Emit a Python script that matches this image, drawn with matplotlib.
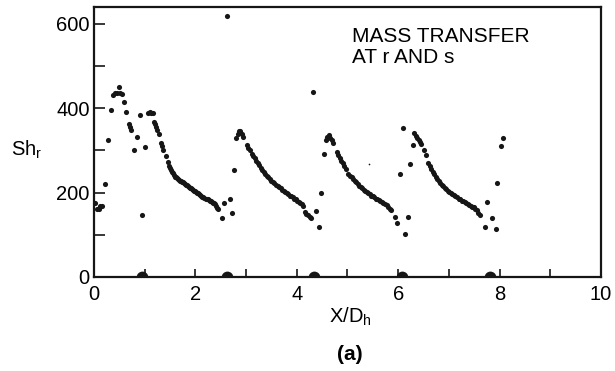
import matplotlib
matplotlib.use('Agg')
import matplotlib.pyplot as plt

plt.rcParams['font.family'] = ['Liberation Sans', 'DejaVu Sans']
plt.rcParams['mathtext.default'] = 'regular'

########################################################################################################################
## Data: local Sherwood number at r along the duct
########################################################################################################################
# first pitch (inlet up to the first rib)
x_p0 = [0.02, 0.06, 0.10, 0.12, 0.16, 0.22, 0.28, 0.33, 0.38, 0.42, 0.46, 0.49, 0.52, 0.55, 0.59,
        0.64, 0.70, 0.72, 0.74, 0.79, 0.84, 0.91, 0.95, 1.01]
sh_p0 = [175, 162, 160, 168, 168, 221, 324, 395, 432, 435, 436, 451, 435, 434, 416,
         390, 363, 356, 349, 302, 333, 383, 148, 308]

# second pitch
x_p1 = [1.07, 1.10, 1.13, 1.16, 1.18, 1.20, 1.22, 1.25, 1.28, 1.32, 1.34, 1.37, 1.42, 1.46, 1.48,
        1.50, 1.52, 1.54, 1.56, 1.58, 1.60, 1.62, 1.64, 1.66, 1.68, 1.70, 1.72, 1.74, 1.76, 1.78,
        1.80, 1.82, 1.84, 1.86, 1.88, 1.90, 1.92, 1.94, 1.96, 1.98, 2.00, 2.02, 2.04, 2.06, 2.08,
        2.10, 2.12, 2.14, 2.16, 2.18, 2.20, 2.22, 2.24, 2.26, 2.28, 2.30, 2.32, 2.34, 2.36, 2.38,
        2.40, 2.42, 2.45, 2.52, 2.57, 2.62, 2.69, 2.73, 2.77]
sh_p1 = [389, 390, 389, 388, 368, 362, 356, 348, 340, 318, 310, 300, 286, 272, 264,
         258, 253, 250, 246, 242, 238, 236, 234, 232, 230, 228, 227, 226, 224, 222,
         220, 219, 217, 215, 213, 212, 210, 208, 206, 205, 203, 201, 200, 198, 196,
         194, 192, 190, 189, 187, 186, 185, 184, 183, 181, 180, 178, 176, 175, 172,
         168, 164, 160, 141, 176, 618, 184, 152, 253]

# third pitch
x_p2 = [2.81, 2.84, 2.87, 2.89, 2.91, 2.94, 3.01, 3.04, 3.07, 3.11, 3.14, 3.17, 3.20, 3.23, 3.26,
        3.29, 3.32, 3.35, 3.38, 3.41, 3.44, 3.47, 3.50, 3.53, 3.56, 3.59, 3.62, 3.65, 3.68, 3.71,
        3.74, 3.77, 3.80, 3.83, 3.86, 3.89, 3.92, 3.95, 3.98, 4.01, 4.04, 4.07, 4.10, 4.13, 4.16,
        4.19, 4.22, 4.26, 4.29, 4.32, 4.38, 4.43, 4.48, 4.53]
sh_p2 = [330, 340, 345, 347, 340, 333, 312, 305, 300, 292, 287, 282, 276, 270, 265,
         259, 253, 249, 244, 240, 236, 232, 228, 225, 222, 219, 216, 213, 210, 207,
         204, 201, 199, 196, 193, 191, 189, 186, 184, 181, 178, 175, 172, 168, 155,
         150, 146, 142, 139, 439, 156, 119, 198, 291]

# fourth pitch
x_p3 = [4.57, 4.60, 4.63, 4.66, 4.69, 4.72, 4.79, 4.82, 4.85, 4.88, 4.91, 4.94, 4.98, 5.02, 5.05,
        5.08, 5.11, 5.14, 5.17, 5.20, 5.23, 5.26, 5.29, 5.32, 5.35, 5.38, 5.41, 5.44, 5.47, 5.50,
        5.53, 5.56, 5.59, 5.62, 5.65, 5.68, 5.71, 5.74, 5.77, 5.80, 5.83, 5.86, 5.94, 5.97, 6.04,
        6.09, 6.13, 6.19, 6.23]
sh_p3 = [325, 333, 336, 330, 324, 318, 296, 290, 283, 276, 270, 263, 257, 245, 240,
         236, 232, 228, 224, 220, 216, 213, 210, 207, 204, 201, 198, 196, 193, 191,
         189, 186, 184, 182, 180, 178, 176, 174, 171, 167, 162, 158, 142, 127, 243,
         354, 102, 142, 269]

# fifth pitch
x_p4 = [6.29, 6.32, 6.35, 6.38, 6.41, 6.44, 6.46, 6.50, 6.55, 6.59, 6.62, 6.65, 6.68, 6.71, 6.74,
        6.77, 6.80, 6.83, 6.86, 6.89, 6.92, 6.95, 6.98, 7.01, 7.04, 7.07, 7.10, 7.13, 7.16, 7.19,
        7.22, 7.25, 7.28, 7.31, 7.34, 7.37, 7.40, 7.43, 7.46, 7.49, 7.52, 7.55, 7.58, 7.61, 7.71,
        7.76, 7.86, 7.92, 7.94, 8.02, 8.07]
sh_p4 = [313, 341, 335, 330, 325, 320, 316, 302, 289, 270, 263, 256, 250, 244, 238,
         232, 227, 222, 217, 215, 211, 208, 205, 202, 199, 196, 194, 191, 189, 186,
         184, 181, 179, 177, 175, 173, 171, 169, 167, 165, 162, 158, 152, 146, 119,
         178, 141, 113, 223, 310, 330]

# rib locations on the wall
rib_x = [0.95, 2.63, 4.33, 6.07, 7.81]
rib_y = [0, 0, 0, 0, 0]

x_ticks = [0, 2, 4, 6, 8, 10]
y_ticks = [0, 200, 400, 600]
########################################################################################################################

fig = plt.figure(figsize=(6.15, 3.71), dpi=100)
ax = fig.add_axes([0.1528, 0.2534, 0.8244, 0.7277])

ink = '#161616'
for xs, ys in [(x_p0, sh_p0), (x_p1, sh_p1), (x_p2, sh_p2), (x_p3, sh_p3), (x_p4, sh_p4)]:
    ax.plot(xs, ys, 'o', color=ink, markersize=3.7, markeredgewidth=0)

# stray speck between the fourth pitch points
ax.plot([5.43], [267], 'o', color=ink, markersize=1.2, markeredgewidth=0)

# ribs drawn as half discs sitting on the wall
ax.plot(rib_x, rib_y, 'o', color=ink, markersize=8.5, markeredgewidth=0, clip_on=True)

ax.set_xlim(0, 10)
ax.set_ylim(0, 640)

ax.set_xticks(range(0, 11))
ax.set_xticklabels([str(t) if t in x_ticks else '' for t in range(0, 11)])
ax.set_yticks(range(0, 700, 100))
ax.set_yticklabels([str(t) if t in y_ticks else '' for t in range(0, 700, 100)])

ax.tick_params(axis='x', direction='in', length=6, width=1.2, labelsize=14.5, pad=6, color=ink)
ax.tick_params(axis='y', direction='in', length=8, width=1.2, labelsize=14.5, pad=3, color=ink)
for sp in ax.spines.values():
    sp.set_linewidth(1.6)
    sp.set_color(ink)

ax.set_xlabel('X/D$_h$', fontsize=14.5)
ax.xaxis.set_label_coords(0.505, -0.105)
ax.set_ylabel('Sh$_r$', fontsize=14.5, rotation=0)
ax.yaxis.set_label_coords(-0.132, 0.43)

ax.text(0.508, 0.925, 'MASS TRANSFER\nAT r AND s', transform=ax.transAxes, fontsize=15,
        ha='left', va='top', linespacing=1.1)

fig.text(350 / 615, 1 - 355 / 371, '(a)', fontsize=15, fontweight='bold', ha='center', va='center')

fig.savefig('out.png', dpi=100)
